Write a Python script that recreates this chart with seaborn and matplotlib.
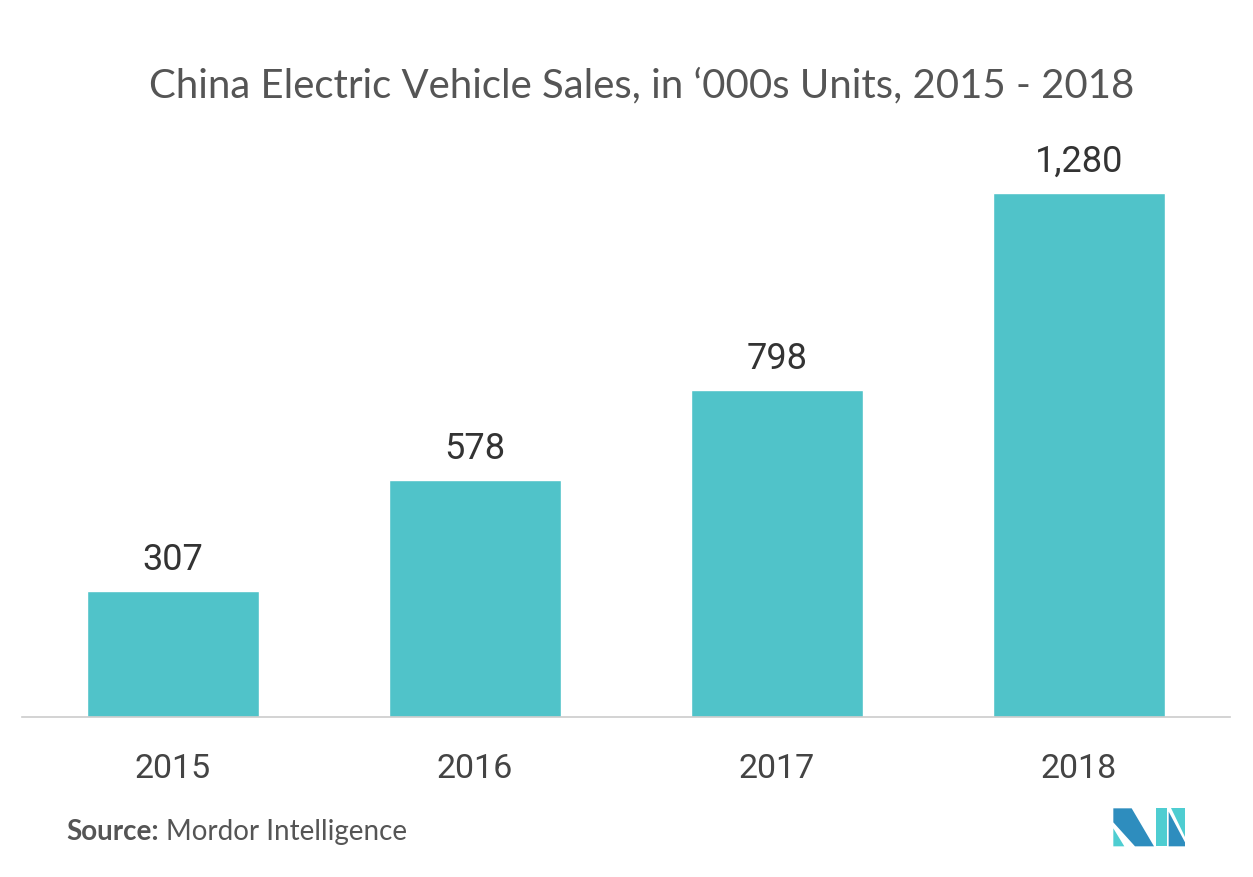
import matplotlib
matplotlib.use("Agg")
import matplotlib.pyplot as plt
from matplotlib.patches import Polygon
import pandas as pd
import seaborn as sns

years = ["2015", "2016", "2017", "2018"]
sales = [307, 578, 798, 1280]
value_labels = ["307", "578", "798", "1,280"]

BAR_COLOR = "#50C3C9"
DARK_BLUE = "#2E8DBE"
TEAL = "#4ECDD1"

sns.set_style("white")
plt.rcParams["font.family"] = ["Roboto", "DejaVu Sans"]

df = pd.DataFrame({"year": years, "sales": sales})

fig = plt.figure(figsize=(12.53, 8.78), dpi=100)
ax = fig.add_axes([22 / 1253, 160 / 878, 1208 / 1253, 578 / 878])

sns.barplot(data=df, x="year", y="sales", color=BAR_COLOR, width=0.57,
            saturation=1, ax=ax)

ax.set_xlim(-0.5, 3.5)
ax.set_ylim(0, 1280 * 578 / 524)
for patch, lab in zip(ax.patches, value_labels):
    ax.annotate(lab, (patch.get_x() + patch.get_width() / 2, patch.get_height()),
                xytext=(0, 10), textcoords="offset points", ha="center", va="bottom",
                fontsize=26, color="#333333")

ax.set_xlabel("")
ax.set_ylabel("")
ax.set_yticks([])
ax.tick_params(axis="x", length=0, pad=25, labelsize=24.5, labelcolor="#444444")
for side in ["top", "left", "right"]:
    ax.spines[side].set_visible(False)
ax.spines["bottom"].set_color("#cccccc")
ax.spines["bottom"].set_linewidth(1.2)

fig.text(642 / 1253, 1 - 86 / 878, "China Electric Vehicle Sales, in \u2018000s Units, 2015 - 2018",
         ha="center", va="center", fontsize=28.9, color="#555555", family=["Lato", "DejaVu Sans"])

src = fig.text(66 / 1253, 1 - 832 / 878, "Source:", ha="left", va="center", fontsize=20,
               color="#555555", fontweight="bold", family=["Lato", "DejaVu Sans"])
fig.canvas.draw()
bb = src.get_window_extent()
fig.text((bb.x1 + 7) / 1253, 1 - 832 / 878, "Mordor Intelligence", ha="left", va="center",
         fontsize=20, color="#555555", family=["Lato", "DejaVu Sans"])

# logo, drawn in pixel coords of a 3x zoom crop starting at (1080, 790)
def logo_poly(points, color):
    pts = [((1080 + zx / 3) / 1253, 1 - (790 + zy / 3) / 878) for zx, zy in points]
    fig.add_artist(Polygon(pts, closed=True, facecolor=color, edgecolor="none",
                           transform=fig.transFigure))

logo_poly([(100, 58), (155, 58), (222, 172), (165, 172), (100, 100)], DARK_BLUE)
logo_poly([(100, 118), (133, 172), (100, 172)], TEAL)
logo_poly([(228, 58), (262, 58), (262, 172), (228, 172)], TEAL)
logo_poly([(272, 58), (315, 58), (315, 145)], TEAL)
logo_poly([(266, 68), (315, 160), (315, 172), (266, 172)], DARK_BLUE)

fig.savefig("out.png", dpi=100, facecolor="white")
